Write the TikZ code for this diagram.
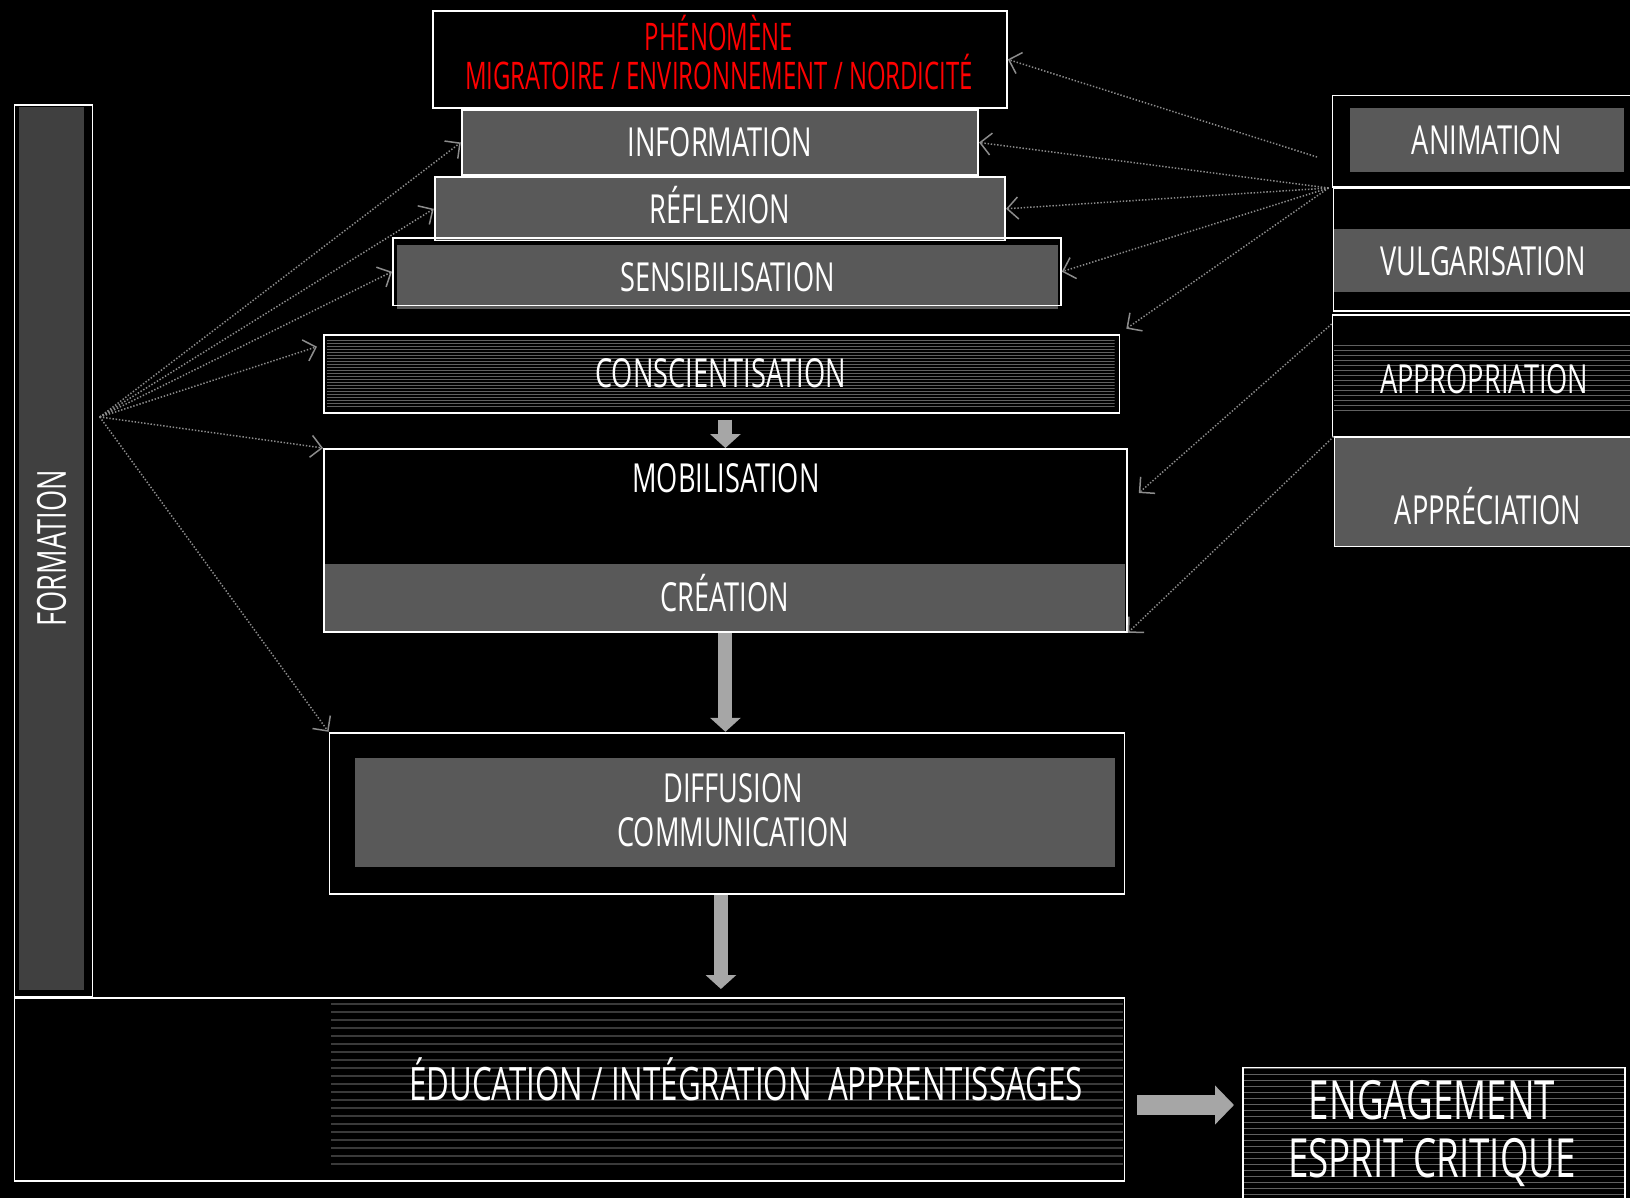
\documentclass[tikz,border=0pt]{standalone}
\usepackage{fontspec}
\newfontfamily\cond[FakeStretch=0.68]{Open Sans}
\newfontfamily\condnarrow[FakeStretch=0.63]{Open Sans}
\usetikzlibrary{arrows.meta, positioning, calc}
\definecolor{boxgrey}{HTML}{595959}
\definecolor{darkgrey}{HTML}{404040}
\definecolor{arrowgrey}{HTML}{A6A6A6}
\definecolor{linkgrey}{HTML}{8C8C8C}
\definecolor{stripegrey}{HTML}{606060}
\definecolor{edustripe}{HTML}{3A3A3A}
\definecolor{phenred}{HTML}{FF0000}

\begin{document}
\begin{tikzpicture}[
  x=1pt, y=-1pt,
  frame/.style={draw=white, line width=1.8pt, inner sep=0pt, anchor=north west},
  greybox/.style={fill=boxgrey, inner sep=0pt, anchor=north west},
  txt/.style={text=white, inner sep=0pt, font=\cond\fontsize{40}{46}\selectfont, text height=29pt, text depth=0pt},
  redtxt/.style={text=phenred, inner sep=0pt, font=\condnarrow\fontsize{38}{44}\selectfont, text height=27pt, text depth=0pt},
  bigtxt/.style={txt, font=\cond\fontsize{46}{52}\selectfont, text height=33pt},
  hugetxt/.style={txt, font=\cond\fontsize{54}{60}\selectfont, text height=38.5pt},
  stripes/.style n args={3}{path picture={
    \foreach \k in {0,...,80}
      \draw[draw=#3, line width=#2]
        ([yshift={-#1*\k-1pt}]path picture bounding box.north west) --
        ([yshift={-#1*\k-1pt}]path picture bounding box.north east);
  }},
  link/.style={dash pattern=on 1.4pt off 1.8pt, draw=linkgrey, line width=1.5pt, -{Straight Barb[length=11pt, width=22pt]}},
  bigarrow/.style={draw=arrowgrey, line width=14pt, -{Triangle[length=14pt, width=30pt]}}
]
  \fill[black] (0,0) rectangle (1630,1198);
  \useasboundingbox (0,0) rectangle (1630,1198);

  % pyramid
  \node[frame, fill=black, minimum width=574pt, minimum height=97pt] (phen) at (432,10) {};
  \node[redtxt] (phentop) at (719,37.4) {PHÉNOMÈNE};
  \node[redtxt] (phenbot) at (719,75.9) {MIGRATOIRE / ENVIRONNEMENT / NORDICITÉ};
  \node[frame, fill=boxgrey, txt, minimum width=516.5pt, minimum height=65.6pt, below=0pt of phen] (info) {INFORMATION};
  \node[frame, fill=boxgrey, txt, minimum width=570.5pt, minimum height=63.4pt, below=0pt of info] (refl) {RÉFLEXION};
  \node[greybox, txt, minimum width=661pt, minimum height=63.7pt] (sensfill) at (397,245) {SENSIBILISATION};
  \node[frame, minimum width=668pt, minimum height=67.6pt] (sens) at (392,237) {};

  \node[frame, minimum width=795.5pt, minimum height=78pt] (cons) at (323,333.7) {};
  \node[txt, anchor=north west, stripes={3pt}{1.2pt}{stripegrey}, minimum width=788pt, minimum height=68.6pt] (consfill) at (326.4,338.9) {CONSCIENTISATION};

  \node[greybox, txt, minimum width=801pt, minimum height=67.6pt] (crea) at (324,563.4) {CRÉATION};
  \node[frame, minimum width=803pt, minimum height=183pt] (mob) at (323,448) {};
  \node[txt] (mobtext) at (726,478) {MOBILISATION};

  \node[frame, minimum width=795pt, minimum height=161pt] (diff) at (328.5,731.8) {};
  \node[greybox, minimum width=760pt, minimum height=109pt] (difffill) at (354.5,757.8) {};
  \node[txt] (difftop) at (733,788) {DIFFUSION};
  \node[txt] (diffbot) at (733,831.6) {COMMUNICATION};

  % left bar and bottom
  \node[frame, minimum width=78pt, minimum height=892pt] (form) at (13.5,104) {};
  \node[txt, fill=darkgrey, rotate=90, minimum width=882.6pt, minimum height=65.5pt] (formfill) at (51.45,548.3) {FORMATION};

  \node[anchor=north west, inner sep=0pt, stripes={8pt}{2pt}{edustripe}, minimum width=792pt, minimum height=167pt] (edufill) at (330.6,1003) {};
  \node[frame, minimum width=1110pt, minimum height=183pt] (edu) at (13.5,997) {};
  \node[bigtxt] (edutext) at (746,1084) {ÉDUCATION / INTÉGRATION\ \ APPRENTISSAGES};

  \node[frame, stripes={6pt}{1.5pt}{stripegrey}, minimum width=382pt, minimum height=150pt] (eng) at (1242,1066.5) {};
  \node[hugetxt] (engtop) at (1432,1100) {ENGAGEMENT};
  \node[hugetxt] (engbot) at (1432,1158) {ESPRIT CRITIQUE};

  % right column
  \node[frame, minimum width=310pt, minimum height=91.4pt] (anim) at (1331.6,94.6) {};
  \node[greybox, txt, minimum width=274pt, minimum height=63.5pt] (animfill) at (1349.5,108) {ANIMATION};
  \node[greybox, txt, minimum width=300pt, minimum height=63.3pt] (vulgfill) at (1333,228.7) {VULGARISATION};
  \node[frame, minimum width=310pt, minimum height=122.8pt] (vulg) at (1332.6,187) {};
  \node[txt, anchor=north west, stripes={5pt}{1.2pt}{stripegrey}, minimum width=300pt, minimum height=68.7pt] (apprfill) at (1334,344) {APPROPRIATION};
  \node[frame, minimum width=310pt, minimum height=121.5pt] (appr) at (1331.6,314) {};
  \node[frame, fill=boxgrey, minimum width=310pt, minimum height=109pt] (apprec) at (1333.6,436.6) {};
  \node[txt] (apprectext) at (1488,510) {APPRÉCIATION};

  % dotted links
  \coordinate (hubL) at (99.8,417);
  \coordinate (hubR) at (1328.5,188);
  \coordinate (hubP) at (1317,157);
  \draw[link] (hubL) -- (info.west);
  \draw[link] (hubL) -- (refl.west);
  \draw[link] (hubL) -- (sens.west);
  \draw[link] (hubL) -- ($(cons.north west)+(-6,13)$);
  \draw[link] (hubL) -- (mob.north west);
  \draw[link] (hubL) -- (diff.north west);
  \draw[link] (hubP) -- (phen.east);
  \draw[link] (hubR) -- (info.east);
  \draw[link] (hubR) -- (refl.east);
  \draw[link] (hubR) -- (sens.east);
  \draw[link] (hubR) -- ($(cons.north east)+(6,-5)$);
  \draw[link] ($(appr.north west)+(0,10)$) -- ($(mob.north east)+(11,45)$);
  \draw[link] (apprec.north west) -- (mob.south east);

  % flow arrows
  \coordinate (arrowrow) at (0,1105);
  \draw[bigarrow, shorten <=6pt] (mob.north |- cons.south) -- (mob.north);
  \draw[bigarrow] (mob.south) -- (mob.south |- diff.north);
  \draw[bigarrow, shorten >=8pt] ($(diff.south)+(-6,0)$) -- ($(diff.south |- edu.north)+(-6,0)$);
  \draw[bigarrow, line width=20pt, -{Triangle[length=19pt, width=38pt]}, shorten <=12pt, shorten >=8pt] (edu.east |- arrowrow) -- (eng.west |- arrowrow);
\end{tikzpicture}
\end{document}
